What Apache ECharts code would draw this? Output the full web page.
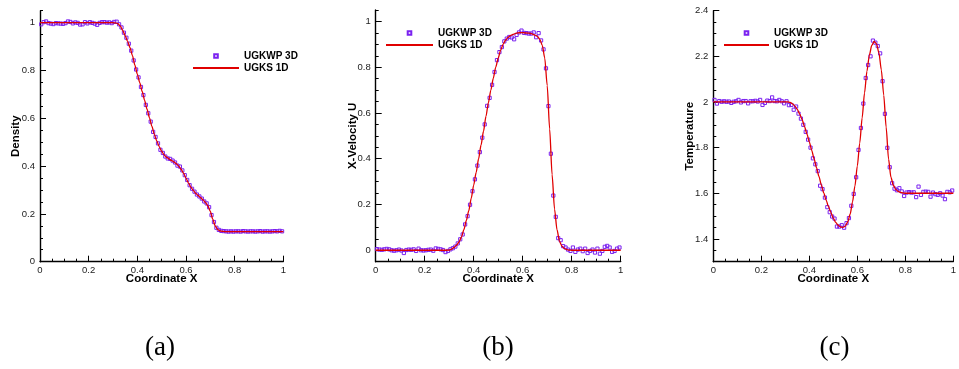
<!DOCTYPE html>
<html><head><meta charset="utf-8">
<script src="https://cdn.jsdelivr.net/npm/echarts@6/dist/echarts.min.js"></script>
<style>html,body{margin:0;padding:0;background:#fff}#c{width:959px;height:369px}</style>
</head><body><div id="c"></div><script>
// ---- data ----
const seriesNames = ['UGKWP 3D', 'UGKS 1D'];
const captions = ['(a)', '(b)', '(c)'];
const yNames = ['Density', 'X-Velocity U', 'Temperature'];
const xName = 'Coordinate X';
// UGKWP 3D: cell centres 0.005, 0.015, ... 0.995 ; UGKS 1D: 0, 0.01, ... 1.0
const cellStart = 0.005, cellStep = 0.01;
const lineStart = 0, lineStep = 0.01;

const densityUGKWP = [
 0.993,1.002,1.005,0.998,0.996,0.994,0.998,0.997,0.996,0.995,0.998,1.005,1.003,0.997,1.001,0.999,
 0.992,0.993,1.002,0.997,1.002,0.999,0.996,0.991,0.999,1.002,1.002,1.000,1.001,0.998,1.003,1.004,
 0.993,0.98,0.958,0.937,0.912,0.883,0.842,0.804,0.771,0.731,0.697,0.656,0.621,0.586,0.543,0.522,
 0.495,0.468,0.455,0.44,0.432,0.43,0.423,0.415,0.402,0.398,0.382,0.362,0.342,0.32,0.305,0.293,
 0.281,0.273,0.264,0.252,0.244,0.228,0.195,0.166,0.142,0.133,0.129,
 0.128,0.127,0.126,0.127,0.126,0.127,0.127,0.126,0.128,0.127,0.126,0.127,0.127,0.126,0.127,0.128,
 0.126,0.127,0.127,0.126,0.127,0.128,0.127,0.129,0.127];
const densityUGKS = [
 1,1,1,1,1,1,1,1,1,1,1,1,1,1,1,1,1,1,1,1,1,1,1,1,1,1,1,1,1,1,1,0.999,0.996,
 0.986,0.968,0.946,0.922,0.895,0.862,0.822,0.785,0.749,0.712,0.675,0.638,0.602,0.566,0.533,0.505,
 0.481,0.462,0.447,0.437,0.43,0.424,0.418,0.41,0.4,0.387,0.37,0.35,0.33,0.312,0.298,0.286,0.277,
 0.268,0.259,0.248,0.234,0.21,0.178,0.15,0.135,0.129,0.127,
 0.126,0.126,0.126,0.126,0.126,0.126,0.126,0.126,0.126,0.126,0.126,0.126,0.126,0.126,0.126,0.126,
 0.126,0.126,0.126,0.126,0.126,0.126,0.126,0.126,0.126];

const velocityUGKWP = [
 0.005,0.003,0.002,0.004,0.006,0.004,0.0,-0.002,0.0,0.003,-0.001,-0.012,0.001,0.003,0.002,0.004,
 -0.003,0.007,0.0,-0.001,0.0,0.002,0.003,-0.002,0.008,0.006,0.004,0.001,-0.008,-0.003,
 0.004,0.009,0.016,0.03,0.048,0.069,0.113,0.149,0.199,0.258,0.31,0.37,0.429,0.492,0.55,0.631,
 0.666,0.723,0.779,0.831,0.866,0.888,0.913,0.925,0.932,0.93,0.922,0.941,0.952,0.96,0.95,0.949,
 0.947,0.947,0.952,0.931,0.949,0.917,0.878,0.795,0.63,0.422,0.239,0.146,0.053,0.044,0.018,
 0.012,0.003,-0.003,0.012,-0.007,0.003,0.007,-0.004,0.007,-0.012,-0.003,0.003,-0.01,0.007,-0.015,
 -0.003,0.015,0.019,0.012,-0.007,-0.003,0.007,0.012];
const velocityUGKS = [
 0,0,0,0,0,0,0,0,0,0,0,0,0,0,0,0,0,0,0,0,0,0,0,0,0,0,0,0,0,0,0.001,
 0.005,0.012,0.022,0.036,0.058,0.09,0.13,0.173,0.228,0.285,0.34,0.40,0.46,0.52,0.585,0.645,
 0.70,0.752,0.80,0.84,0.875,0.9,0.918,0.93,0.938,0.943,0.947,0.95,0.951,0.951,0.95,0.949,
 0.948,0.945,0.94,0.935,0.922,0.895,0.84,0.72,0.53,0.33,0.18,0.09,0.04,0.018,0.008,0.003,
 0.001,0,0,0,0,0,0,0,0,0,0,0,0,0,0,0,0,0,0,0,0,0];

const temperatureUGKWP = [
 2.009,1.993,2.004,2.001,2.003,2.001,2.002,1.996,2.001,2.003,2.009,1.998,2.004,2.004,1.994,2.003,
 2.003,2.005,2.002,2.009,1.987,1.996,2.006,2.004,2.02,2.004,2.003,2.009,
 2.003,1.994,2.003,1.986,1.987,1.966,1.98,1.949,1.927,1.9,1.869,1.835,1.8,1.753,1.727,1.697,
 1.633,1.618,1.581,1.539,1.517,1.498,1.489,1.454,1.454,1.46,1.449,1.469,1.491,1.545,1.597,1.67,
 1.79,1.886,1.993,2.105,2.162,2.2,2.269,2.26,2.245,2.213,2.091,1.948,1.799,1.714,1.644,
 1.62,1.613,1.622,1.608,1.588,1.603,1.605,1.603,1.604,1.583,1.629,1.593,1.606,1.607,1.606,1.585,
 1.603,1.596,1.593,1.6,1.59,1.574,1.606,1.604,1.612];
const temperatureUGKS = [
 2,2,2,2,2,2,2,2,2,2,2,2,2,2,2,2,2,2,2,2,2,2,2,2,2,2,2,2,2,2,2,2,
 1.998,1.992,1.982,1.967,1.947,1.922,1.892,1.86,1.825,1.788,1.75,1.712,1.674,1.637,1.602,1.57,
 1.541,1.515,1.49,1.472,1.46,1.452,1.45,1.456,1.474,1.508,1.562,1.632,1.72,1.82,1.93,2.04,
 2.135,2.205,2.248,2.265,2.255,2.215,2.14,2.03,1.89,1.75,1.67,1.635,1.617,1.608,1.604,1.601,
 1.6,1.6,1.6,1.6,1.6,1.6,1.6,1.6,1.6,1.6,1.6,1.6,1.6,1.6,1.6,1.6,1.6,1.6,1.6,1.6,1.6];

const xRange = [0, 1], xInterval = 0.2;
const yRanges = [[0, 1.05], [-0.05, 1.05], [1.3, 2.4]];
const yTickLabels = [
  [0, 0.2, 0.4, 0.6, 0.8, 1],
  [0, 0.2, 0.4, 0.6, 0.8, 1],
  [1.4, 1.6, 1.8, 2, 2.2, 2.4]
];
const yMinorInterval = 0.05;

// ---- layout / style ----
const grids = [
  {left: 40, top: 10.7, width: 243.3, height: 251},
  {left: 375.7, top: 10, width: 245, height: 251.7},
  {left: 713.3, top: 10.7, width: 244, height: 251}
];
const yNameGaps = [18, 16.5, 17];
const legendPos = [{left: 192, top: 50, w: 46}, {left: 385, top: 27, w: 47}, {left: 723, top: 27, w: 45}];
const captionX = [160, 498, 834.5];
const FONT = 'Liberation Sans';
const markerColor = '#7b22f0';
const lineColor = '#e00000';

const withX = (arr, start, step) => arr.map((v, i) => [+(start + i * step).toFixed(4), v]);
const markerSets = [densityUGKWP, velocityUGKWP, temperatureUGKWP];
const lineSets = [densityUGKS, velocityUGKS, temperatureUGKS];

const tickLine = {color: '#000', width: 1};
const nameStyle = {fontFamily: FONT, fontWeight: 'bold', fontSize: 11.5, color: '#000'};
const labelStyle = {fontFamily: FONT, fontSize: 9.5, color: '#222'};

const xAxes = [], yAxes = [], series = [], legends = [];
for (let k = 0; k < 3; k++) {
  xAxes.push({
    type: 'value', gridIndex: k, min: xRange[0], max: xRange[1], interval: xInterval,
    name: xName, nameLocation: 'middle', nameGap: 11.5, nameMoveOverlap: false,
    nameTextStyle: nameStyle,
    axisLine: {onZero: false, lineStyle: {color: '#000', width: 1.4}},
    axisTick: {inside: true, length: 6, lineStyle: tickLine},
    minorTick: {show: true, splitNumber: 4, length: 3, lineStyle: tickLine},
    splitLine: {show: false}, minorSplitLine: {show: false},
    axisLabel: Object.assign({margin: 4}, labelStyle)
  });
  // main y axis: minor ticks every 0.05, labels at the 0.2 marks
  yAxes.push({
    type: 'value', gridIndex: k, min: yRanges[k][0], max: yRanges[k][1], interval: yMinorInterval,
    name: yNames[k], nameLocation: 'middle', nameGap: yNameGaps[k], nameRotate: 90, nameMoveOverlap: false,
    nameTextStyle: nameStyle,
    axisLine: {onZero: false, lineStyle: {color: '#000', width: 1.4}},
    axisTick: {inside: true, length: 3, lineStyle: tickLine},
    splitLine: {show: false},
    axisLabel: Object.assign({margin: 5, customValues: yTickLabels[k]}, labelStyle)
  });
  series.push({
    name: seriesNames[0], type: 'line', xAxisIndex: k, yAxisIndex: k,
    data: withX(markerSets[k], cellStart, cellStep),
    symbol: 'rect', symbolSize: 3.2, showAllSymbol: true,
    lineStyle: {width: 0, opacity: 0},
    itemStyle: {color: 'rgba(255,255,255,0)', borderColor: markerColor, borderWidth: 1},
    emphasis: {disabled: true}, z: 2
  });
  series.push({
    name: seriesNames[1], type: 'line', xAxisIndex: k, yAxisIndex: k,
    data: withX(lineSets[k], lineStart, lineStep),
    symbol: 'none', smooth: 0.25, smoothMonotone: 'x',
    lineStyle: {color: lineColor, width: 1.3},
    itemStyle: {color: lineColor},
    emphasis: {disabled: true}, z: 3
  });
  const lp = legendPos[k];
  legends.push({
    data: [{name: seriesNames[0]}, {name: seriesNames[1], itemStyle: {opacity: 0}}],
    orient: 'vertical', left: lp.left, top: lp.top,
    itemWidth: lp.w, itemHeight: 4.5, itemGap: 0, padding: 0,
    selectedMode: false,
    textStyle: {fontFamily: FONT, fontWeight: 'bold', fontSize: 10, color: '#000', lineHeight: 12}
  });
}
// overlay y axes carrying only the long (major) ticks at the labelled values
for (let k = 0; k < 3; k++) {
  yAxes.push({
    type: 'value', gridIndex: k, min: yRanges[k][0], max: yRanges[k][1], interval: yMinorInterval,
    position: 'left', offset: 0,
    axisLine: {show: false},
    axisTick: {show: true, inside: true, length: 6, lineStyle: tickLine, customValues: yTickLabels[k]},
    axisLabel: {show: false},
    splitLine: {show: false}
  });
}

const graphics = captions.map((t, k) => ({
  type: 'text', x: captionX[k], y: 334,
  style: {text: t, font: '27px "Liberation Serif"', fill: '#000', textAlign: 'center'}
}));

const chart = echarts.init(document.getElementById('c'), null, {renderer: 'canvas'});
chart.setOption({
  animation: false,
  backgroundColor: '#fff',
  grid: grids,
  xAxis: xAxes,
  yAxis: yAxes,
  legend: legends,
  series: series,
  graphic: graphics
});
</script></body></html>
